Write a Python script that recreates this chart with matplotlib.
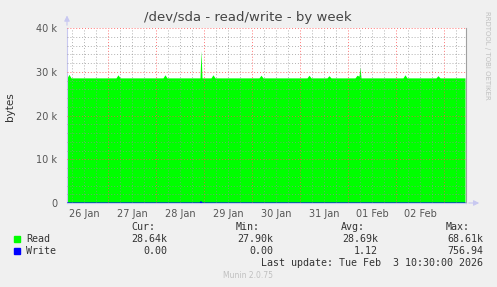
import matplotlib
matplotlib.use('Agg')
import matplotlib.pyplot as plt

# time axis in hours from the left edge of the plot (26 Jan 03:30)
read_h = [0, 1, 2, 24.5, 25.5, 26.5, 48, 49, 50, 66.5, 67, 67.5, 72, 73, 74,
          96, 97, 98, 120, 121, 122, 130, 131, 132, 144, 145, 146, 146.5, 147,
          168, 169, 170, 184.5, 185.5, 186.5, 199]
read_v = [28.6, 29.4, 28.6, 28.6, 29.3, 28.6, 28.6, 29.3, 28.6, 28.6, 34.8, 28.6, 28.6, 29.3, 28.6,
          28.6, 29.2, 28.6, 28.6, 29.2, 28.6, 28.6, 29.1, 28.6, 28.6, 29.2, 29.0, 31.1, 28.6,
          28.6, 29.3, 28.6, 28.6, 29.1, 28.6, 28.6]
write_h = [0, 66.5, 67, 67.5, 199]
write_v = [0, 0, 0.3, 0, 0]

day_labels = ['26 Jan', '27 Jan', '28 Jan', '29 Jan', '30 Jan', '31 Jan', '01 Feb', '02 Feb']
first_midnight = -3.5   # 26 Jan 00:00 relative to plot start
t_end = 199.5

y_ticks = [0, 10, 20, 30, 40]
y_labels = ['0', '10 k', '20 k', '30 k', '40 k']

legend_names = ['Read', 'Write']
legend_colors = ['#00ff00', '#0000ff']
cur = ['28.64k', '0.00']
mins = ['27.90k', '0.00']
avgs = ['28.69k', '1.12']
maxs = ['68.61k', '756.94']

W, H = 497, 287
fig = plt.figure(figsize=(W / 100, H / 100), dpi=100, facecolor='#f0f0f0')
ax = fig.add_axes([67 / W, (H - 203) / H, 399 / W, 175 / H])
ax.set_facecolor('white')
ax.set_xlim(0, t_end)
ax.set_ylim(0, 40)

ax.fill_between(read_h, read_v, 0, color=legend_colors[0], lw=0, zorder=2)
ax.plot(write_h, write_v, color=legend_colors[1], lw=0.8, zorder=3)

# grid drawn on top like rrdtool
for k in range(0, 9 * 4):
    x = first_midnight + k * 6
    if 0 < x < t_end:
        if k % 4 == 0:
            ax.axvline(x, color='#ff5050', lw=0.7, ls=(0, (1, 2)), alpha=0.8, zorder=4)
        else:
            ax.axvline(x, color='#909090', lw=0.7, ls=(0, (1, 2)), alpha=0.7, zorder=4)
for yv in range(2, 41, 2):
    if yv % 10 == 0:
        ax.axhline(yv, color='#ff5050', lw=0.7, ls=(0, (1, 2)), alpha=0.8, zorder=4)
    else:
        ax.axhline(yv, color='#909090', lw=0.7, ls=(0, (1, 2)), alpha=0.7, zorder=4)

ax.spines['top'].set_visible(False)
ax.spines['right'].set_color('#a0a0a0')
ax.spines['right'].set_linewidth(0.8)
ax.spines['left'].set_color('#c8c8f0')
ax.spines['bottom'].set_color('#c8c8f0')
ax.spines['left'].set_linewidth(0.8)
ax.spines['bottom'].set_linewidth(0.8)

ax.set_yticks(y_ticks)
ax.set_yticklabels(y_labels)
ax.tick_params(axis='y', length=0, pad=7, labelsize=7, labelcolor='#555555')
centers = [first_midnight + 12 + 24 * i for i in range(len(day_labels))]
ax.set_xticks(centers)
ax.set_xticklabels(day_labels)
ax.tick_params(axis='x', length=0, pad=4, labelsize=7, labelcolor='#555555')

# axis arrows
ax.annotate('', xy=(0, 43.5), xytext=(0, 40), xycoords='data',
            arrowprops=dict(arrowstyle='-|>', color='#c8c8f0', lw=0.8, mutation_scale=8),
            annotation_clip=False)
ax.annotate('', xy=(t_end + 8, 0), xytext=(t_end, 0), xycoords='data',
            arrowprops=dict(arrowstyle='-|>', color='#c8c8f0', lw=0.8, mutation_scale=8),
            annotation_clip=False)

fig.text(248 / W, 1 - 18 / H, '/dev/sda - read/write - by week', ha='center', va='center',
         fontsize=9.5, color='#444444')
fig.text(10 / W, 1 - 107 / H, 'bytes', rotation=90, ha='center', va='center',
         fontsize=7.5, color='#333333')
fig.text(487 / W, 1 - 55 / H, 'RRDTOOL / TOBI OETIKER', rotation=270, ha='center', va='center',
         fontsize=5, color='#c0c0c0')

mono = 'DejaVu Sans Mono'
fs = 7.2
tc = '#333333'
hy = 1 - 227 / H
fig.text(155 / W, hy, 'Cur:', ha='right', va='center', family=mono, fontsize=fs, color=tc)
fig.text(260 / W, hy, 'Min:', ha='right', va='center', family=mono, fontsize=fs, color=tc)
fig.text(365 / W, hy, 'Avg:', ha='right', va='center', family=mono, fontsize=fs, color=tc)
fig.text(470 / W, hy, 'Max:', ha='right', va='center', family=mono, fontsize=fs, color=tc)
for i, name in enumerate(legend_names):
    yy = 1 - (239 + 12 * i) / H
    fig.patches.append(plt.Rectangle((14 / W, yy - 3 / H), 6 / W, 6 / H,
                                     transform=fig.transFigure, color=legend_colors[i]))
    fig.text(26 / W, yy, name, ha='left', va='center', family=mono, fontsize=fs, color=tc)
    fig.text(167 / W, yy, cur[i], ha='right', va='center', family=mono, fontsize=fs, color=tc)
    fig.text(273 / W, yy, mins[i], ha='right', va='center', family=mono, fontsize=fs, color=tc)
    fig.text(378 / W, yy, avgs[i], ha='right', va='center', family=mono, fontsize=fs, color=tc)
    fig.text(483 / W, yy, maxs[i], ha='right', va='center', family=mono, fontsize=fs, color=tc)
fig.text(483 / W, 1 - 263 / H, 'Last update: Tue Feb  3 10:30:00 2026', ha='right', va='center',
         family=mono, fontsize=fs, color=tc)
fig.text(248 / W, 1 - 276 / H, 'Munin 2.0.75', ha='center', va='center',
         fontsize=5.5, color='#c0c0c0')

fig.savefig('out.png', dpi=100, facecolor=fig.get_facecolor())
